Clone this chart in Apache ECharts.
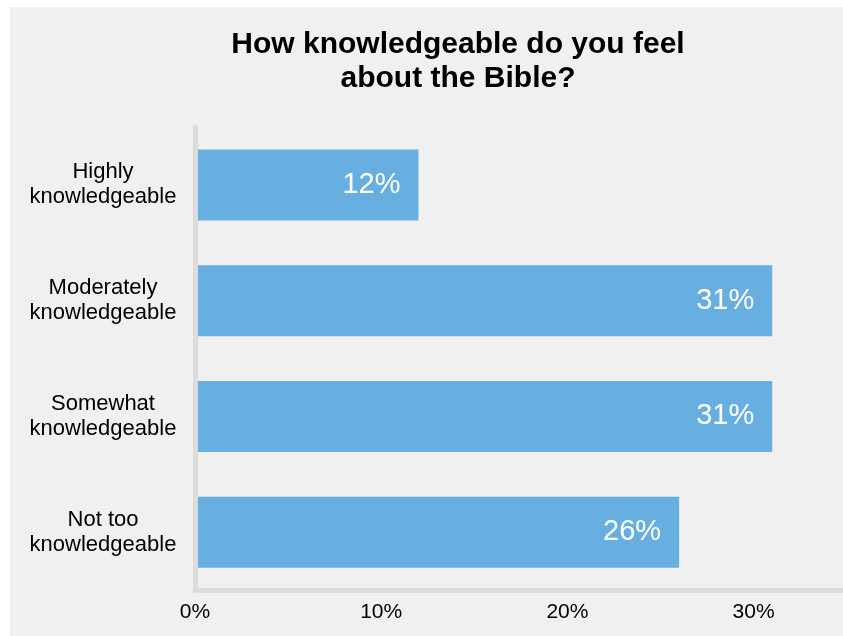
<!DOCTYPE html>
<html>
<head>
<meta charset="utf-8">
<style>
  html, body { margin: 0; padding: 0; background: #ffffff; }
  #panel { position: absolute; left: 10px; top: 7px; width: 833px; height: 629px; background: #f0f0f0; }
  #chart { position: absolute; left: 0; top: 0; width: 843px; height: 636px; }
</style>
<script src="https://cdn.jsdelivr.net/npm/echarts@6/dist/echarts.min.js"></script>
</head>
<body>
<div id="panel"></div>
<div id="chart"></div>
<script>
// Survey answers, top to bottom
const categories = [
  'Highly\nknowledgeable',
  'Moderately\nknowledgeable',
  'Somewhat\nknowledgeable',
  'Not too\nknowledgeable'
];
// Share of respondents (%)
const shares = [12, 31, 31, 26];
// Value axis ticks (%)
const tickValues = [0, 10, 20, 30];

const FONT = "'Liberation Sans', Arial, sans-serif";
const chart = echarts.init(document.getElementById('chart'), null, { renderer: 'canvas' });

chart.setOption({
  backgroundColor: 'transparent',
  animation: false,
  title: {
    text: 'How knowledgeable do you feel\nabout the Bible?',
    left: 453,
    top: 23,
    textAlign: 'center',
    textStyle: {
      fontFamily: FONT,
      fontSize: 30,
      fontWeight: 'bold',
      color: '#000000',
      lineHeight: 34
    }
  },
  grid: { left: 195, right: 0, top: 127, bottom: 46, containLabel: false },
  xAxis: {
    type: 'value',
    min: tickValues[0],
    max: 34.8,
    interval: tickValues[1] - tickValues[0],
    z: 5,
    axisLine: { show: true, lineStyle: { color: '#dcdcdc', width: 5 } },
    axisTick: { show: false },
    splitLine: { show: false },
    axisLabel: {
      showMaxLabel: false,
      margin: 12,
      fontFamily: FONT,
      fontSize: 21,
      color: '#000000',
      formatter: v => tickValues.includes(v) ? v + '%' : ''
    }
  },
  yAxis: {
    type: 'category',
    data: categories,
    inverse: true,
    z: 5,
    axisLine: { show: true, lineStyle: { color: '#dcdcdc', width: 5 } },
    axisTick: { show: false },
    splitLine: { show: false },
    axisLabel: {
      align: 'center',
      margin: 92,
      fontFamily: FONT,
      fontSize: 22,
      lineHeight: 25,
      color: '#000000'
    }
  },
  series: [{
    type: 'bar',
    data: shares,
    barWidth: 71,
    itemStyle: { color: '#66afe0' },
    label: {
      show: true,
      position: 'insideRight',
      distance: 18,
      fontFamily: FONT,
      fontSize: 29,
      color: '#ffffff',
      formatter: p => p.value + '%'
    }
  }]
});
</script>
</body>
</html>
